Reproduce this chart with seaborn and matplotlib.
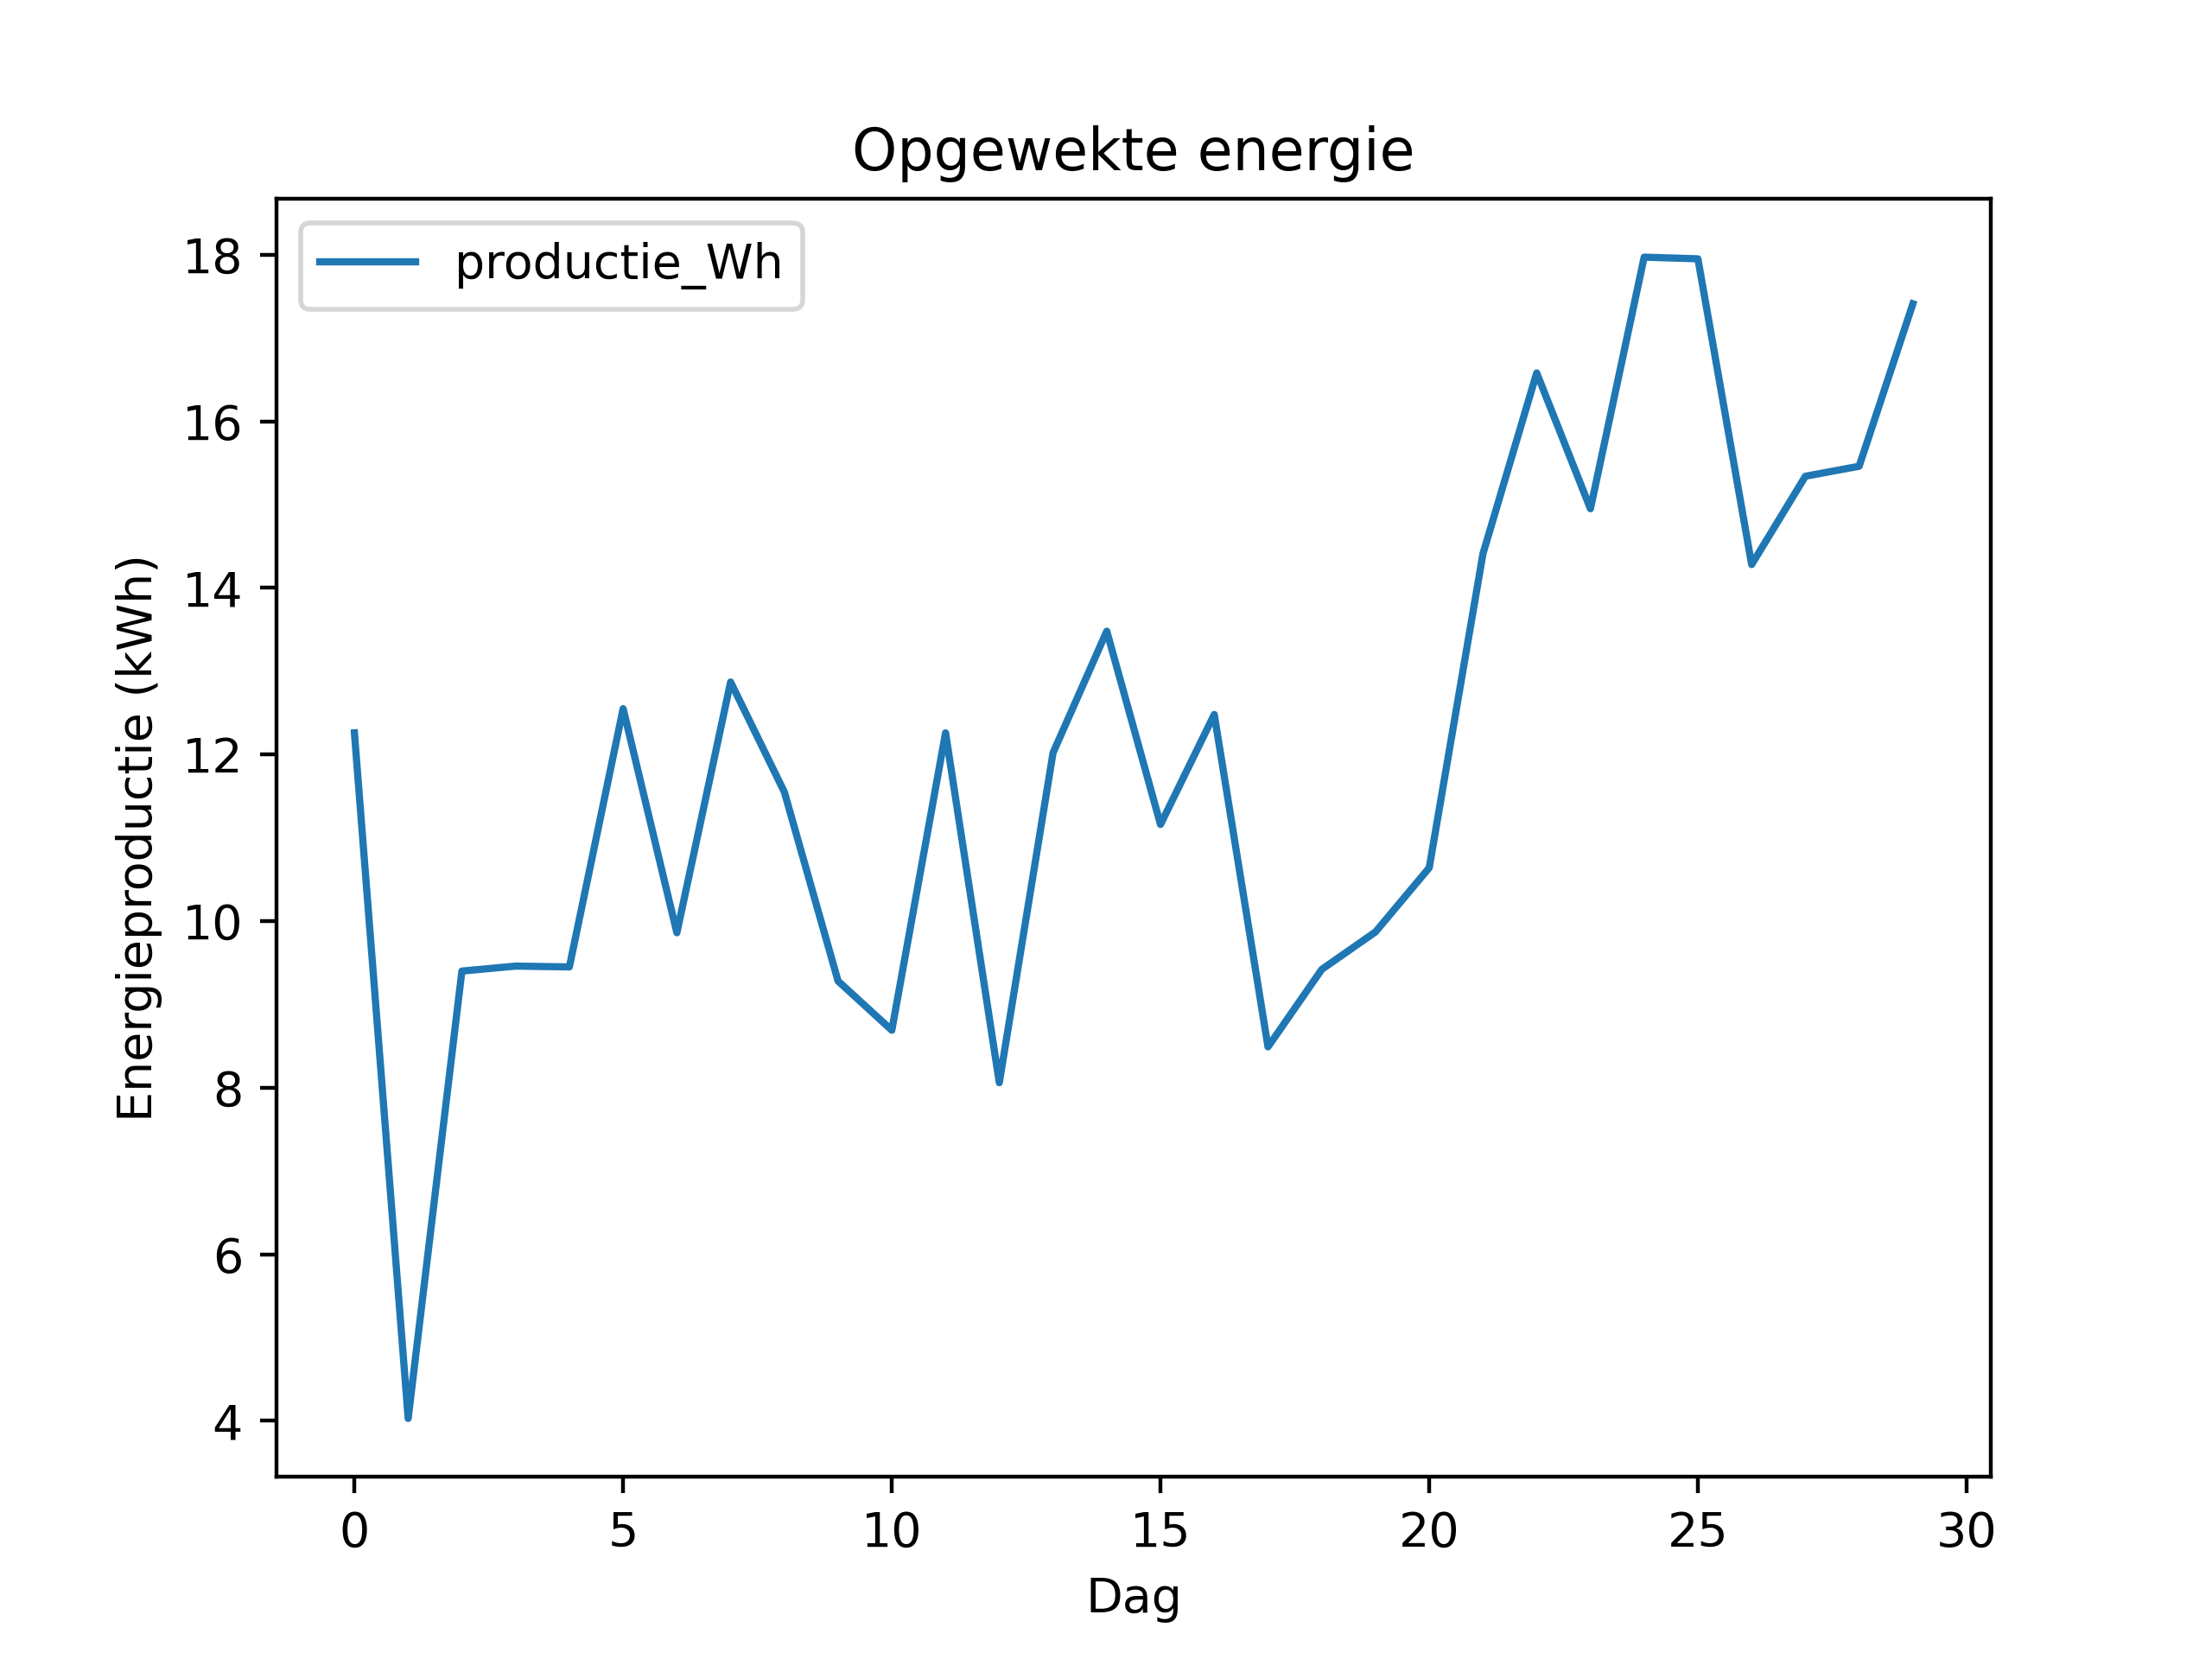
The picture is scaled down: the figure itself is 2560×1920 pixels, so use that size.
import numpy as np
import pandas as pd
import matplotlib
matplotlib.use("Agg")
import matplotlib.pyplot as plt
import seaborn as sns

# Data (kWh per day)
dag = list(range(30))
productie_kwh = [12.26, 4.03, 9.40, 9.46, 9.45, 12.55, 9.86, 12.87, 11.55, 9.28,
                 8.69, 12.26, 8.06, 12.02, 13.48, 11.16, 12.48, 8.49, 9.42, 9.87,
                 10.64, 14.41, 16.58, 14.95, 17.97, 17.95, 14.28, 15.34, 15.46, 17.41]

df = pd.DataFrame({"Dag": dag, "productie_Wh": productie_kwh})

fig, ax = plt.subplots(figsize=(6.4, 4.8), dpi=400)
sns.lineplot(data=df, x="Dag", y="productie_Wh", ax=ax, color="#1f77b4",
             label="productie_Wh")
ax.set_title("Opgewekte energie")
ax.set_xlabel("Dag")
ax.set_ylabel("Energieproductie (kWh)")
ax.legend(loc="upper left")

fig.savefig("out.png", dpi=400)
